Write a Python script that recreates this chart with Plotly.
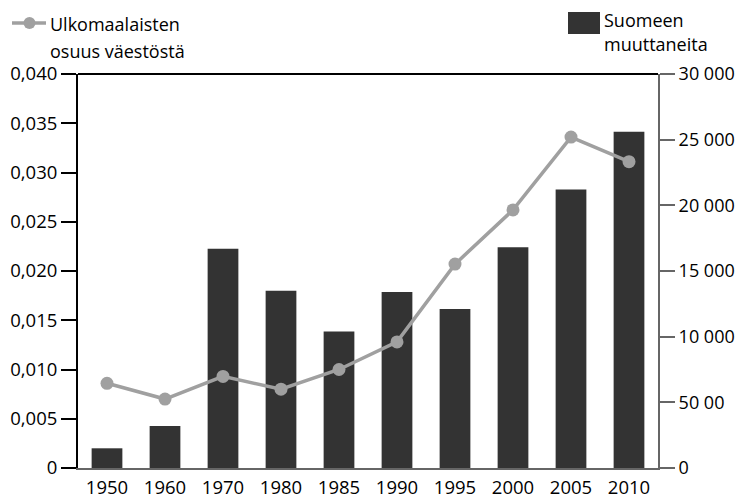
import plotly.graph_objects as go

years = ["1950", "1960", "1970", "1980", "1985", "1990", "1995", "2000", "2005", "2010"]
immigrants = [1500, 3200, 16700, 13500, 10400, 13400, 12100, 16800, 21200, 25600]
foreign_share = [0.0086, 0.0070, 0.0093, 0.0080, 0.0100, 0.0128, 0.0207, 0.0262, 0.0336, 0.0311]

left_tickvals = [0, 0.005, 0.010, 0.015, 0.020, 0.025, 0.030, 0.035, 0.040]
left_ticktext = ["0", "0,005", "0,010", "0,015", "0,020", "0,025", "0,030", "0,035", "0,040"]
right_tickvals = [0, 5000, 10000, 15000, 20000, 25000, 30000]
right_ticktext = ["0", "50 00", "10 000", "15 000", "20 000", "25 000", "30 000"]

line_label = ["Ulkomaalaisten", "osuus väestöstä"]
bar_label = ["Suomeen", "muuttaneita"]

BAR = "#333333"
LINE = "#a0a0a0"
FONT = "Open Sans"

OFF = 8  # page body margin
W, H = 743 - OFF, 498 - OFF
# plot area in page pixels
PL, PR, PT, PB = 78, 658, 74, 468
L = PL - OFF
T = PT - OFF
pw = PR - PL
ph = PB - PT
R = W - L - pw
B = H - T - ph

def px(x):
    return (x - PL) / pw

def py(y):
    return (PB - y) / ph

fig = go.Figure()
fig.add_trace(go.Bar(x=years, y=immigrants, yaxis="y", marker=dict(color=BAR, line=dict(width=0)),
                     width=0.53, showlegend=False))
fig.add_trace(go.Scatter(x=years, y=foreign_share, yaxis="y2", mode="lines+markers",
                         line=dict(color=LINE, width=3.5), marker=dict(color=LINE, size=13),
                         showlegend=False))

shapes = [
    dict(type="line", xref="paper", yref="paper", x0=0, x1=1, y0=1, y1=1,
         line=dict(color="black", width=2)),
    dict(type="line", xref="paper", yref="paper", x0=px(12), x1=px(46), y0=py(23), y1=py(23),
         line=dict(color=LINE, width=3.5)),
    dict(type="circle", xref="paper", yref="paper", x0=px(23.5), x1=px(35.5), y0=py(29), y1=py(17),
         fillcolor=LINE, line=dict(width=0)),
    dict(type="rect", xref="paper", yref="paper", x0=px(568), x1=px(600), y0=py(34), y1=py(12),
         fillcolor=BAR, line=dict(width=0)),
]

LF = 18
annotations = [
    dict(text=line_label[0], xref="paper", yref="paper", x=px(48), y=py(24), xanchor="left", yanchor="middle",
         showarrow=False, font=dict(size=LF, color="black", family=FONT)),
    dict(text=line_label[1], xref="paper", yref="paper", x=px(48), y=py(51), xanchor="left", yanchor="middle",
         showarrow=False, font=dict(size=LF, color="black", family=FONT)),
    dict(text=bar_label[0], xref="paper", yref="paper", x=px(602), y=py(20), xanchor="left", yanchor="middle",
         showarrow=False, font=dict(size=LF, color="black", family=FONT)),
    dict(text=bar_label[1], xref="paper", yref="paper", x=px(602), y=py(44), xanchor="left", yanchor="middle",
         showarrow=False, font=dict(size=LF, color="black", family=FONT)),
]

TF = 18.5
fig.update_layout(
    width=W, height=H,
    margin=dict(l=L, r=R, t=T, b=B, autoexpand=False),
    paper_bgcolor="white", plot_bgcolor="white",
    font=dict(family=FONT, size=TF, color="black"),
    shapes=shapes,
    annotations=annotations,
    xaxis=dict(type="category", range=[-0.5, 9.5], showline=True, linecolor="#666666", linewidth=2,
               ticks="", showgrid=False, tickfont=dict(size=TF), ticklabelstandoff=2),
    yaxis=dict(range=[0, 30000], tickvals=right_tickvals, ticktext=right_ticktext,
               side="right", showline=True, linecolor="#666666", linewidth=2, ticks="outside", ticklen=15,
               tickcolor="#666666", tickwidth=1.5, showgrid=False, zeroline=False, tickfont=dict(size=18)),
    yaxis2=dict(range=[0, 0.040], tickvals=left_tickvals, ticktext=left_ticktext, overlaying="y",
                side="left", showline=True, linecolor="black", linewidth=2, ticks="outside", ticklen=15,
                tickcolor="black", tickwidth=1.5, showgrid=False, zeroline=False, tickfont=dict(size=TF)),
)

fig.write_html("out.html")
